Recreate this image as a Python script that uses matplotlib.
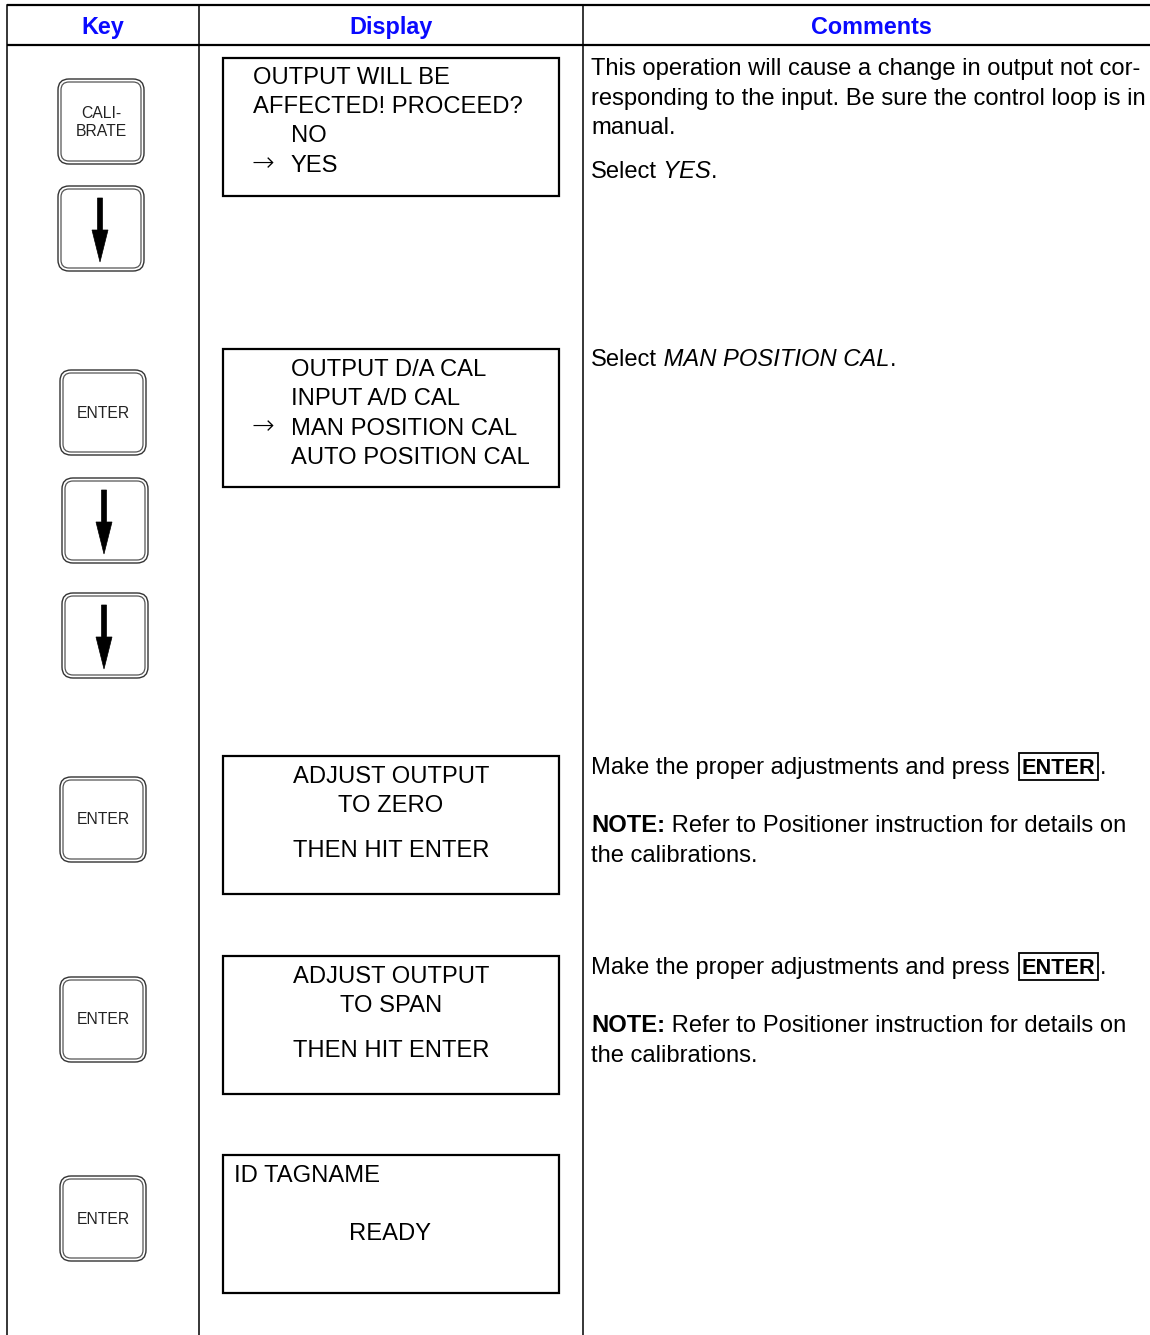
import matplotlib
matplotlib.use('Agg')
import matplotlib.pyplot as plt
from matplotlib.patches import FancyBboxPatch, Rectangle, Polygon

plt.rcParams['font.family'] = ['Liberation Sans', 'DejaVu Sans']

# table content
headers = ["Key", "Display", "Comments"]

key_labels = [["CALI-", "BRATE"], None, ["ENTER"], None, None,
              ["ENTER"], ["ENTER"], ["ENTER"]]      # None -> down arrow key

screens = [
    ["OUTPUT WILL BE", "AFFECTED! PROCEED?", "NO", "YES"],
    ["OUTPUT D/A CAL", "INPUT A/D CAL", "MAN POSITION CAL", "AUTO POSITION CAL"],
    ["ADJUST OUTPUT", "TO ZERO", "THEN HIT ENTER"],
    ["ADJUST OUTPUT", "TO SPAN", "THEN HIT ENTER"],
    ["ID TAGNAME", "READY"],
]
screen_cursor = [3, 2, None, None, None]

# comment paragraphs: list of lines, each line a list of (text, style)
comments = [
    [[("This operation will cause a change in output not cor-", "n")],
     [("responding to the input. Be sure the control loop is in", "n")],
     [("manual.", "n")],
     [("Select", "n"), (" YES", "i"), (".", "n")]],
    [[("Select", "n"), (" MAN POSITION CAL", "i"), (".", "n")]],
    [[("Make the proper adjustments and press", "n"), ("ENTER", "box"), (".", "n")],
     [("NOTE:", "b"), (" Refer to Positioner instruction for details on", "n")],
     [("the calibrations.", "n")]],
    [[("Make the proper adjustments and press", "n"), ("ENTER", "box"), (".", "n")],
     [("NOTE:", "b"), (" Refer to Positioner instruction for details on", "n")],
     [("the calibrations.", "n")]],
]

# layout (pixels)
W, H = 1150, 1335
col_x = [7, 199, 583]
key_boxes = [(58, 79), (58, 186), (60, 370), (62, 478), (62, 593),
             (60, 777), (60, 977), (60, 1176)]
screen_tops = [58, 349, 756, 956, 1155]
screen_base = [[84, 113, 142, 172], [376, 405, 435, 464],
               [783, 812, 857], [983, 1012, 1057], [1182, 1240]]
comment_base = [[75, 105, 134, 178], [366], [774, 832, 862], [974, 1032, 1062]]
FS = 17.1
BLUE = '#0a0aff'

fig = plt.figure(figsize=(W / 100, H / 100), dpi=100)
ax = fig.add_axes([0, 0, 1, 1])
ax.set_xlim(0, W)
ax.set_ylim(H, 0)
ax.axis('off')
renderer = fig.canvas.get_renderer()

# grid lines
ax.plot([col_x[0], W], [5, 5], color='black', lw=1.6, solid_capstyle='butt')
ax.plot([col_x[0], W], [45, 45], color='black', lw=1.6, solid_capstyle='butt')
for cx in col_x:
    ax.plot([cx, cx], [5, H], color='black', lw=1.1)

for label, x0, x1 in zip(headers, col_x, col_x[1:] + [1160]):
    ax.text((x0 + x1) / 2, 34, label, ha='center', va='baseline',
            fontsize=16.8, fontweight='bold', color=BLUE)

# keys
for lab, (kx, ky) in zip(key_labels, key_boxes):
    kw, kh = 86, 85
    ax.add_patch(FancyBboxPatch((kx, ky), kw, kh,
                                boxstyle='round,pad=0,rounding_size=11',
                                fc='white', ec='#333333', lw=1.0))
    ax.add_patch(FancyBboxPatch((kx + 3, ky + 3), kw - 6, kh - 6,
                                boxstyle='round,pad=0,rounding_size=8',
                                fc='none', ec='#555555', lw=0.9))
    cx = kx + kw / 2 - 1
    if lab is None:
        pts = [(cx - 2.5, ky + 12), (cx + 2.5, ky + 12), (cx + 2.5, ky + 44),
               (cx + 8, ky + 44), (cx, ky + 76), (cx - 8, ky + 44),
               (cx - 2.5, ky + 44)]
        ax.add_patch(Polygon(pts, closed=True, fc='black', ec='black', lw=0.5))
    elif len(lab) == 2:
        ax.text(cx + 1, ky + 34, lab[0], ha='center', va='center', fontsize=11.3,
                color='#222222')
        ax.text(cx + 1, ky + 52, lab[1], ha='center', va='center', fontsize=11.3,
                color='#222222')
    else:
        ax.text(cx + 1, ky + 43, lab[0], ha='center', va='center', fontsize=11.3,
                color='#222222')

# display screens
for i, (lines, top, bases) in enumerate(zip(screens, screen_tops, screen_base)):
    ax.add_patch(Rectangle((223, top), 336, 138, fc='none', ec='black', lw=1.6))
    for j, (txt, yb) in enumerate(zip(lines, bases)):
        if i == 0:
            x = 253 if j < 2 else 291
            ax.text(x, yb, txt, va='baseline', fontsize=FS)
        elif i == 1:
            ax.text(291, yb, txt, va='baseline', fontsize=FS)
        elif i == 4:
            if j == 0:
                ax.text(234, yb, txt, va='baseline', fontsize=FS)
            else:
                ax.text(390, yb, txt, ha='center', va='baseline', fontsize=FS)
        else:
            ax.text(391, yb, txt, ha='center', va='baseline', fontsize=FS)
        if screen_cursor[i] == j:
            ax.text(251, yb - 1, '\u2192', va='baseline', fontsize=19.5,
                    family='DejaVu Sans', fontweight='light')

# comments with mixed styles
styles = {'n': {}, 'i': {'fontstyle': 'italic'}, 'b': {'fontweight': 'bold'},
          'box': {'fontweight': 'bold', 'fontsize': 15.6}}
for para, bases in zip(comments, comment_base):
    for line, yb in zip(para, bases):
        x = 591
        for txt, st in line:
            kw = {'fontsize': FS}
            kw.update(styles[st])
            if st == 'box':
                x += 12
            t = ax.text(x, yb, txt, va='baseline', **kw)
            w = t.get_window_extent(renderer).width
            if st == 'box':
                ax.add_patch(Rectangle((x - 3, yb - 21), w + 6, 27, fc='none',
                                       ec='black', lw=1.3))
                w += 5
            x += w

fig.savefig('out.png', dpi=100)
